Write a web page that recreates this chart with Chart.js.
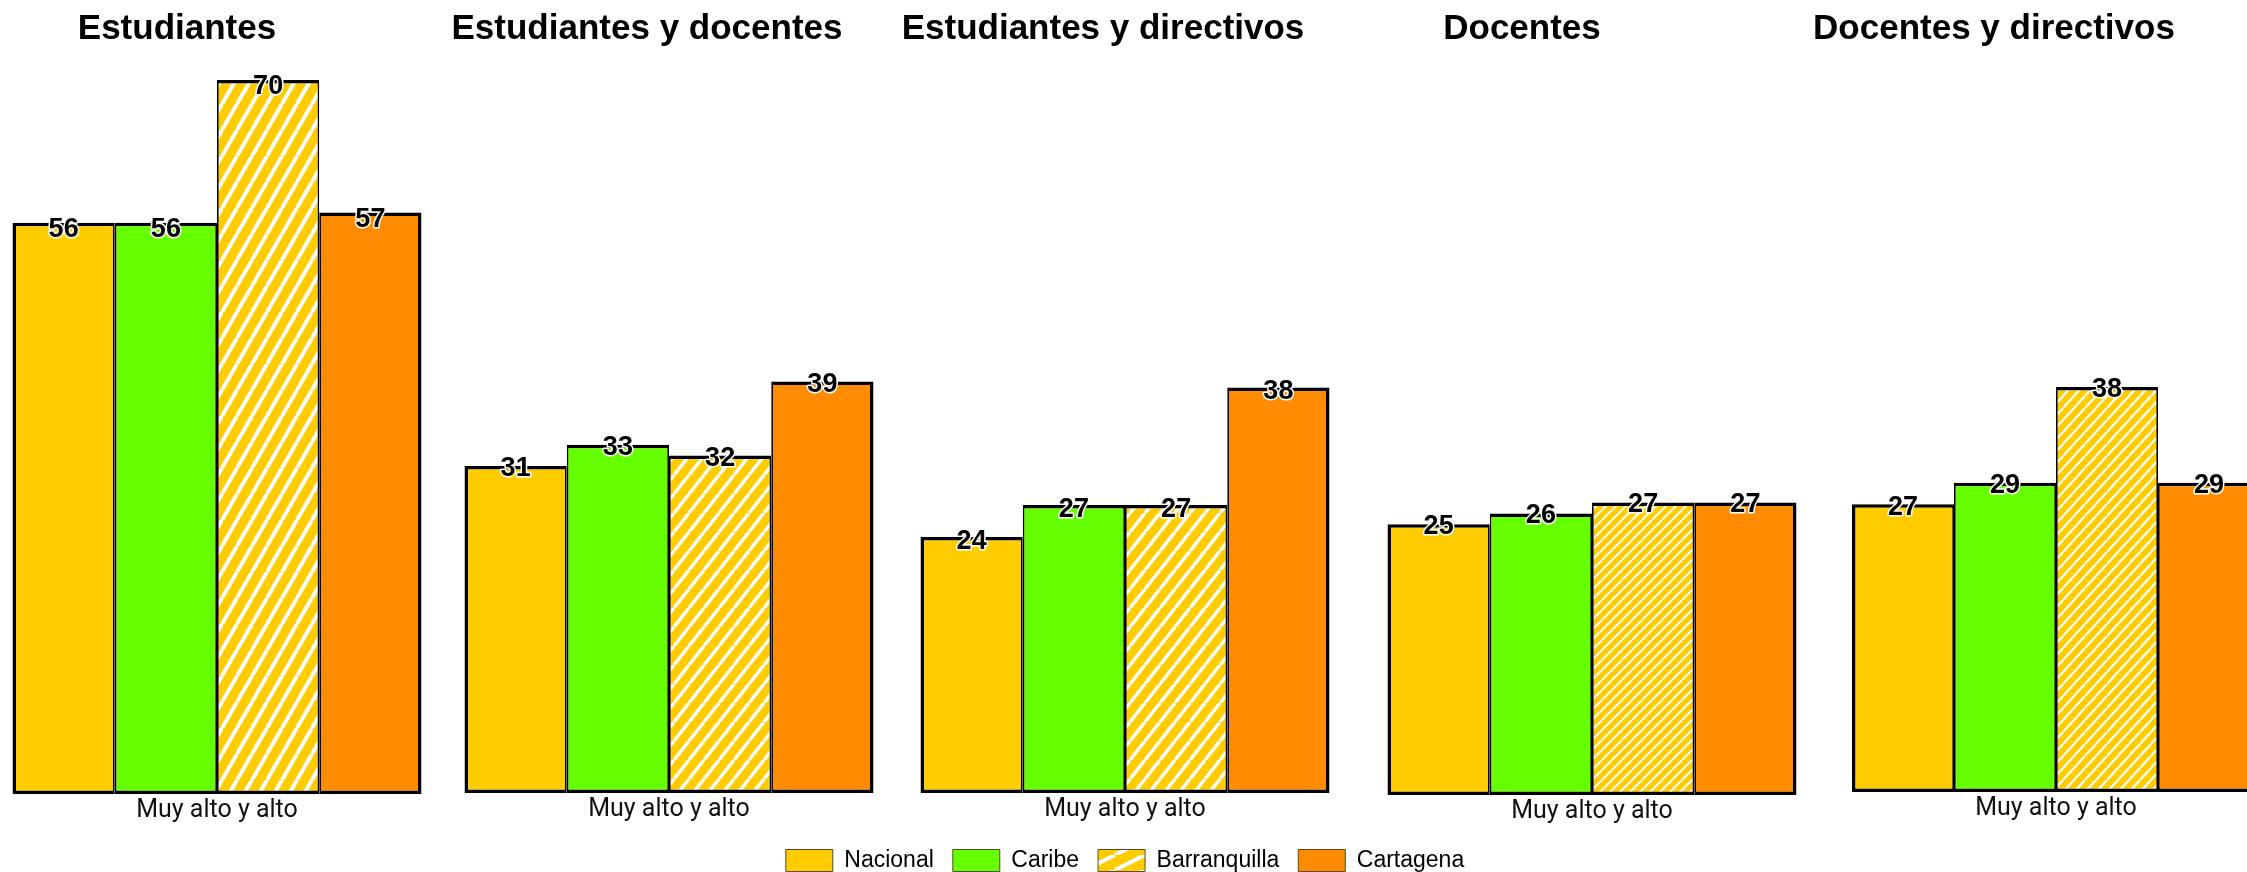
<!DOCTYPE html>
<html lang="es">
<head>
<meta charset="utf-8">
<title>Muy alto y alto</title>
<script src="https://cdn.jsdelivr.net/npm/chart.js@4.4.1/dist/chart.umd.min.js"></script>
<style>
    html, body { margin: 0; padding: 0; background: #fff; }
    body { width: 2247px; height: 872px; overflow: hidden; position: relative; }
    canvas { position: absolute; top: 0; }
</style>
</head>
<body>
<script>
// ============================================
// DATA
// ============================================

const categories = ['Muy alto y alto'];
const panelTitles = ['Estudiantes', 'Estudiantes y docentes', 'Estudiantes y directivos', 'Docentes', 'Docentes y directivos'];
const seriesNames = ['Nacional', 'Caribe', 'Barranquilla', 'Cartagena'];

// one value per panel, same order as panelTitles
const nacional = [56, 31, 24, 25, 27];
const caribe = [56, 33, 27, 26, 29];
const barranquilla = [70, 32, 27, 27, 38];
const cartagena = [57, 39, 38, 27, 29];

// ============================================
// LAYOUT (page pixels) - each panel was a separate picture, so scales differ a bit
// ============================================

const panelLayout = [
    { left: 12,   right: 421,  base: 794, ppu: 10.20, titleX: 177,  labelDy: 7,   hatch: [15, 26, 4] },
    { left: 464,  right: 873,  base: 793, ppu: 10.55, titleX: 647,  labelDy: 3,   hatch: [15, 19, 3.5] },
    { left: 920,  right: 1329, base: 793, ppu: 10.67, titleX: 1103, labelDy: 4.5, hatch: [15, 19, 3.5], legend: true },
    { left: 1387, right: 1796, base: 795, ppu: 10.83, titleX: 1522, labelDy: 2,   hatch: [10, 10, 2] },
    { left: 1852, right: 2260, base: 792, ppu: 10.66, titleX: 1994, labelDy: 3,   hatch: [11, 12, 2.2] }
];

const YELLOW = '#FFCC00';
const GREEN = '#66FF00';
const ORANGE = '#FF8C00';
const CANVAS_W = 800;
const TOP_PAD = 60;
const LEGEND_PAD = 19;
const LEGEND_H = 23 + LEGEND_PAD + 10;   // item height + padding + 10 (Chart.js legend fit)
const LEGEND_BOX_TOP = 849;

function makeHatch(step, rise, width) {
    const c = document.createElement('canvas');
    c.width = step;
    c.height = rise;
    const g = c.getContext('2d');
    g.fillStyle = YELLOW;
    g.fillRect(0, 0, step, rise);
    g.strokeStyle = '#fff';
    g.lineWidth = width;
    [-step, 0, step].forEach(o => {
        g.beginPath();
        g.moveTo(o, rise);
        g.lineTo(o + step, 0);
        g.stroke();
    });
    return g.createPattern(c, 'repeat');
}

// value printed just under the top edge of each bar
const valueLabels = {
    id: 'valueLabels',
    afterDatasetsDraw(chart, args, opts) {
        const ctx = chart.ctx;
        ctx.save();
        ctx.font = 'bold 27px "Liberation Sans", Arial, sans-serif';
        ctx.textAlign = 'center';
        ctx.textBaseline = 'middle';
        ctx.lineJoin = 'round';
        ctx.lineWidth = 3;
        ctx.strokeStyle = '#fff';
        ctx.fillStyle = '#000';
        chart.data.datasets.forEach((ds, i) => {
            chart.getDatasetMeta(i).data.forEach((bar, j) => {
                const t = String(ds.data[j]);
                ctx.strokeText(t, bar.x, bar.y + opts.dy);
                ctx.fillText(t, bar.x, bar.y + opts.dy);
            });
        });
        ctx.restore();
    }
};

// panel heading, not centred on the bars in the original
const panelTitle = {
    id: 'panelTitle',
    afterDraw(chart, args, opts) {
        const ctx = chart.ctx;
        ctx.save();
        ctx.font = 'bold 35px "Liberation Sans", Arial, sans-serif';
        ctx.textAlign = 'center';
        ctx.textBaseline = 'alphabetic';
        ctx.fillStyle = '#000';
        ctx.fillText(opts.text, opts.x, opts.y);
        ctx.restore();
    }
};

// neighbouring bars share an edge, so inner sides get half the width
const edgeWidths = [[3.5, 1.75], [1.75, 1.75], [1.75, 1.75], [1.75, 3.5]];
const legendHatch = makeHatch(30, 15, 4);

function buildPanel(p) {
    const lay = panelLayout[p];
    const center = (lay.left + lay.right) / 2;
    const canvasLeft = Math.round(center - CANVAS_W / 2);
    const canvasH = lay.legend ? LEGEND_BOX_TOP - LEGEND_PAD + LEGEND_H : 872;
    const axisH = canvasH - (lay.legend ? LEGEND_H : 0) - lay.base;

    const canvas = document.createElement('canvas');
    canvas.width = CANVAS_W;
    canvas.height = canvasH;
    canvas.style.left = canvasLeft + 'px';
    document.body.appendChild(canvas);

    const values = [nacional[p], caribe[p], barranquilla[p], cartagena[p]];
    const fills = [YELLOW, GREEN, makeHatch(...lay.hatch), ORANGE];

    new Chart(canvas, {
        type: 'bar',
        data: {
            labels: categories,
            datasets: seriesNames.map((name, i) => ({
                label: name,
                data: [values[i]],
                backgroundColor: fills[i],
                borderColor: '#000',
                borderWidth: { top: 3.5, bottom: 3.5, left: edgeWidths[i][0], right: edgeWidths[i][1] },
                borderSkipped: false,
                categoryPercentage: (lay.right - lay.left) / CANVAS_W,
                barPercentage: 1
            }))
        },
        plugins: [valueLabels, panelTitle],
        options: {
            responsive: false,
            animation: false,
            layout: { padding: { top: TOP_PAD, left: 0, right: 0, bottom: 0 } },
            scales: {
                x: {
                    grid: { display: false, drawTicks: false },
                    border: { display: false },
                    ticks: {
                        padding: 2,
                        color: '#111',
                        font: { family: 'Roboto, "Noto Sans", sans-serif', size: 25 }
                    },
                    afterFit: axis => { axis.height = axisH; }
                },
                y: {
                    display: false,
                    min: 0,
                    max: (lay.base - TOP_PAD) / lay.ppu
                }
            },
            plugins: {
                tooltip: { enabled: false },
                valueLabels: { dy: lay.labelDy },
                panelTitle: { text: panelTitles[p], x: lay.titleX - canvasLeft, y: 38.5 },
                legend: {
                    display: !!lay.legend,
                    position: 'bottom',
                    labels: {
                        boxWidth: 47,
                        boxHeight: 22,
                        padding: LEGEND_PAD,
                        color: '#000',
                        font: { family: '"Liberation Sans", Arial, sans-serif', size: 23 },
                        generateLabels(chart) {
                            const items = Chart.defaults.plugins.legend.labels.generateLabels(chart);
                            items.forEach((it, i) => {
                                it.lineWidth = 1;
                                it.strokeStyle = '#5a4a1a';
                                if (i === 2) it.fillStyle = legendHatch;
                            });
                            return items;
                        }
                    }
                }
            }
        }
    });
}

panelTitles.forEach((t, p) => buildPanel(p));
</script>
</body>
</html>
